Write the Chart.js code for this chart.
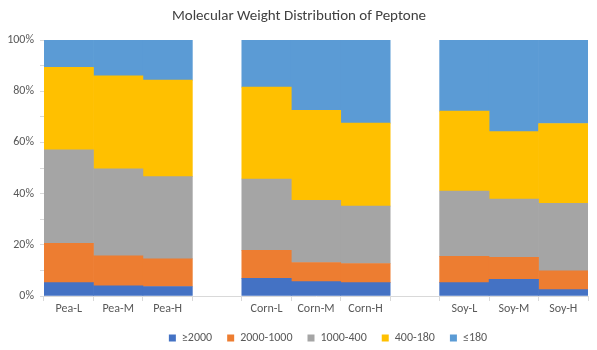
<!DOCTYPE html>
<html>
<head>
<meta charset="utf-8">
<script src="https://cdn.jsdelivr.net/npm/chart.js@4/dist/chart.umd.min.js"></script>
<style>
  html, body { margin: 0; padding: 0; background: #fff; }
  #wrap { width: 597px; height: 350px; }
</style>
</head>
<body>
<div id="wrap"><canvas id="chart"></canvas></div>
<script>
// categories (empty strings are the spacer columns between groups)
const categories = ['Pea-L', 'Pea-M', 'Pea-H', '', 'Corn-L', 'Corn-M', 'Corn-H', '', 'Soy-L', 'Soy-M', 'Soy-H'];

// share of each molecular weight fraction, %
const ge2000     = [5.2, 4.0, 3.7, null, 6.9, 5.6, 5.2, null, 5.2, 6.5, 2.5];
const r2000_1000 = [15.4, 11.7, 10.8, null, 10.9, 7.5, 7.5, null, 10.3, 8.6, 7.3];
const r1000_400  = [36.5, 34.0, 32.1, null, 27.9, 24.3, 22.4, null, 25.5, 22.8, 26.4];
const r400_180   = [32.2, 36.3, 37.7, null, 35.9, 35.1, 32.4, null, 31.2, 26.3, 31.2];
const le180      = [10.7, 14.0, 15.7, null, 18.4, 27.5, 32.5, null, 27.8, 35.8, 32.6];

const seriesNames = ['\u22652000', '2000-1000', '1000-400', '400-180', '\u2264180'];
const yTicks = [0, 20, 40, 60, 80, 100];

const colors = ['#4472C4', '#ED7D31', '#A5A5A5', '#FFC000', '#5B9BD5'];
const allSeries = [ge2000, r2000_1000, r1000_400, r400_180, le180];

const FONT = 'Calibri, Carlito, "Liberation Sans", Arial, sans-serif';
const TXT = '#595959';

// title drawn by hand so the plot top can be fixed
const titlePlugin = {
    id: 'manualTitle',
    afterDraw(chart) {
        const ctx = chart.ctx;
        ctx.save();
        ctx.font = '15px ' + FONT;
        ctx.fillStyle = '#404040';
        ctx.textAlign = 'center';
        ctx.textBaseline = 'middle';
        ctx.fillText('Molecular Weight Distribution of Peptone', 299, 16);
        ctx.restore();
    }
};

// the legend in the original sits a bit right of centre
const legendShift = {
    id: 'legendShift',
    afterLayout(chart) {
        if (chart.legend) {
            chart.legend.left += 34;
            chart.legend.right += 34;
        }
    }
};

new Chart(document.getElementById('chart'), {
    type: 'bar',
    data: {
        labels: categories,
        datasets: allSeries.map((vals, i) => ({
            label: seriesNames[i],
            data: vals,
            backgroundColor: colors[i],
            borderWidth: 0,
            categoryPercentage: 1.0,
            barPercentage: 1.0
        }))
    },
    options: {
        responsive: true,
        maintainAspectRatio: false,
        animation: false,
        // negative bottom padding lets the legend sit a little lower
        layout: { padding: { top: 40, right: 9, left: 0, bottom: -4 } },
        plugins: {
            legend: {
                position: 'bottom',
                labels: {
                    boxWidth: 7,
                    boxHeight: 7,
                    color: TXT,
                    font: { size: 12, family: FONT },
                    padding: 15
                }
            },
            tooltip: { enabled: false }
        },
        scales: {
            x: {
                stacked: true,
                afterFit(scale) { scale.height = 21; },
                grid: {
                    display: true,
                    drawOnChartArea: false,
                    offset: true,
                    tickLength: 5,
                    color: '#D9D9D9'
                },
                border: { color: '#D9D9D9' },
                ticks: {
                    color: TXT,
                    font: { size: 12, family: FONT },
                    maxRotation: 0,
                    autoSkip: false,
                    padding: 1
                }
            },
            y: {
                stacked: true,
                min: 0,
                max: 100,
                afterFit(scale) { scale.width = 44; },
                grid: {
                    display: true,
                    drawOnChartArea: false,
                    tickLength: 4,
                    color: '#D9D9D9'
                },
                border: { color: '#D9D9D9' },
                ticks: {
                    stepSize: 10,
                    color: TXT,
                    font: { size: 12, family: FONT },
                    padding: 6,
                    callback: v => yTicks.includes(v) ? v + '%' : ''
                }
            }
        }
    },
    plugins: [titlePlugin, legendShift]
});
</script>
</body>
</html>
